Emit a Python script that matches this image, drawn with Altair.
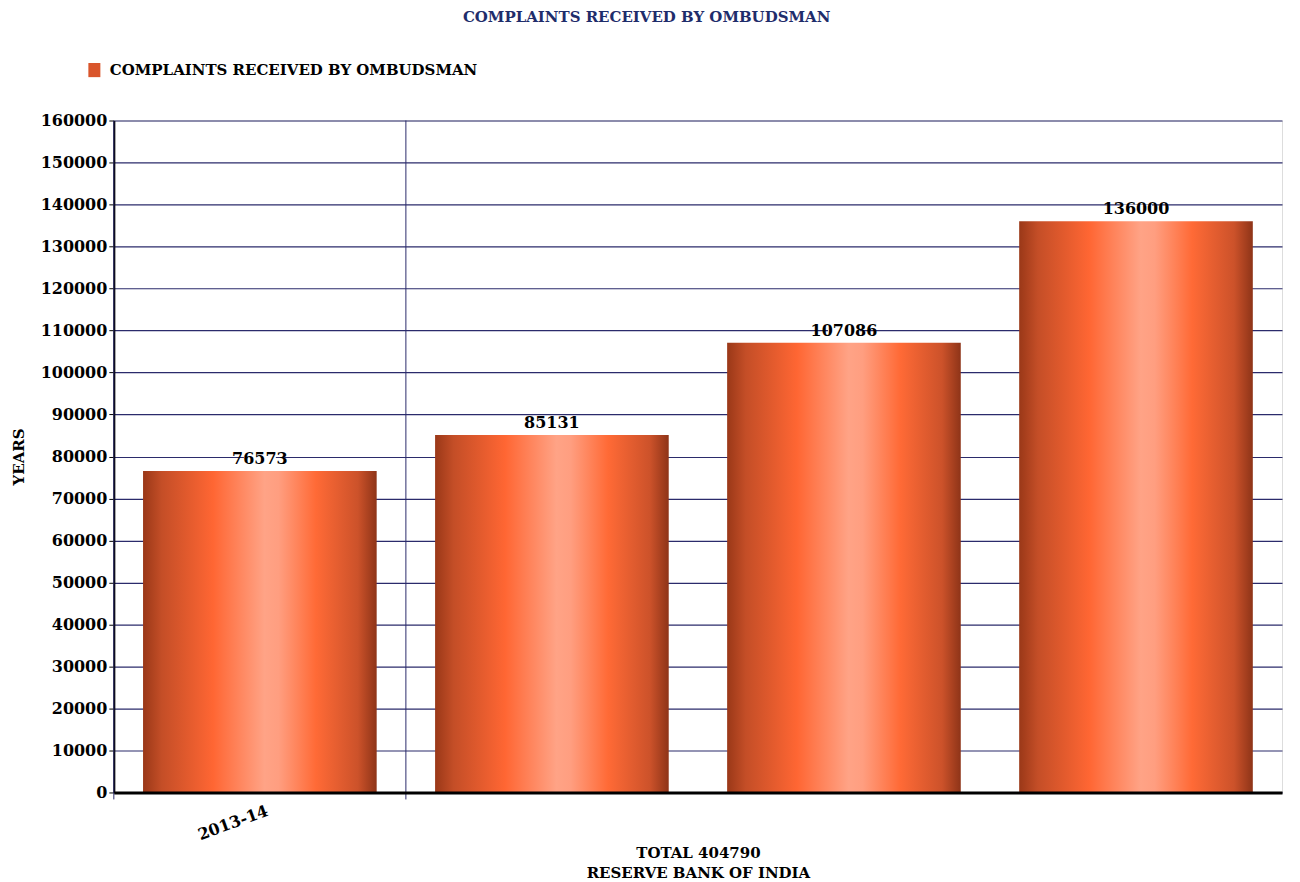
import altair as alt
import pandas as pd

years = ["2013-14", "2014-15", "2015-16", "2016-17"]
complaints = [76573, 85131, 107086, 136000]
series_name = "COMPLAINTS RECEIVED BY OMBUDSMAN"
chart_title = "COMPLAINTS RECEIVED BY OMBUDSMAN"
x_title = ["TOTAL 404790", "RESERVE BANK OF INDIA"]
y_title = "YEARS"
boundary_years = ["2013-14", "2014-15"]

df = pd.DataFrame({"year": years, "value": complaints, "series": [series_name] * len(years)})
rules_df = pd.DataFrame({"year": boundary_years})

FONT = "DejaVu Serif"
W, H = 1170, 673
NAVY = "#2b2b6b"
PAD_IN, PAD_OUT = 0.2, 0.1
step = W / (len(years) - PAD_IN + 2 * PAD_OUT)
half_gap = step * PAD_IN / 2

gradient = {
    "gradient": "linear", "x1": 0, "x2": 1, "y1": 0, "y2": 0,
    "stops": [
        {"offset": 0.0, "color": "#9a3818"},
        {"offset": 0.08, "color": "#c44e27"},
        {"offset": 0.30, "color": "#ff6633"},
        {"offset": 0.52, "color": "#ffa386"},
        {"offset": 0.58, "color": "#ff9e80"},
        {"offset": 0.74, "color": "#ff6a36"},
        {"offset": 0.92, "color": "#cc522a"},
        {"offset": 1.0, "color": "#8e3418"},
    ],
}

xscale = alt.Scale(domain=years, paddingInner=PAD_IN, paddingOuter=PAD_OUT)
yscale = alt.Scale(domain=[0, 160000], nice=False)

x_enc = alt.X(
    "year:N", scale=xscale, sort=years,
    axis=alt.Axis(
        title=x_title, titleFont=FONT, titleFontSize=15, titleFontWeight="bold",
        titleColor="black", titlePadding=3, titleLineHeight=20,
        labelExpr="datum.value == '2013-14' ? datum.label : ''",
        labelAngle=340, labelAlign="right", labelBaseline="top",
        labelFont=FONT, labelFontSize=16, labelFontWeight="bold", labelColor="black",
        labelPadding=10, labelOffset=5,
        ticks=False, grid=False, domainColor="black", domainWidth=3, zindex=1,
    ),
)
y_enc = alt.Y(
    "value:Q", scale=yscale,
    axis=alt.Axis(
        title=y_title, titleFont=FONT, titleFontSize=15, titleFontWeight="bold",
        titleColor="black", titlePadding=14,
        values=list(range(0, 160001, 10000)), format="d",
        labelFont=FONT, labelFontSize=16, labelFontWeight="bold", labelColor="black",
        labelPadding=2, tickSize=5, tickColor="black",
        domainColor="black", domainWidth=2,
        grid=True, gridColor=NAVY, gridWidth=1.2, zindex=0,
    ),
)

bars = alt.Chart(df).mark_bar(color=gradient, strokeWidth=0).encode(x=x_enc, y=y_enc)

legend_layer = alt.Chart(df).transform_filter("false").mark_square().encode(
    x=alt.X("year:N", scale=xscale, sort=years),
    y=alt.Y("value:Q", scale=yscale),
    color=alt.Color(
        "series:N",
        scale=alt.Scale(domain=[series_name], range=["#d9552b"]),
        legend=alt.Legend(
            title=None, orient="none", legendX=-27, legendY=-58,
            symbolType="M-0.85,-1L0.85,-1L0.85,1L-0.85,1Z", symbolSize=200, symbolOpacity=1,
            symbolStrokeWidth=0,
            labelFont=FONT, labelFontSize=15, labelFontWeight="bold",
            labelColor="black", labelOffset=8, labelLimit=600,
        ),
    ),
)

box_path = "M-1,-0.3L1,-0.3L1,0.3L-1,0.3Z"
label_boxes = alt.Chart(df).mark_point(
    shape=box_path, filled=True, color="white", opacity=1, size=1024, yOffset=-12
).encode(x=alt.X("year:N", scale=xscale, sort=years), y=alt.Y("value:Q", scale=yscale))

labels = alt.Chart(df).mark_text(
    font=FONT, fontSize=16, fontWeight="bold", color="black", baseline="middle", dy=-12
).encode(
    x=alt.X("year:N", scale=xscale, sort=years),
    y=alt.Y("value:Q", scale=yscale),
    text=alt.Text("value:Q", format="d"),
)

vrules = alt.Chart(rules_df).mark_rule(color=NAVY, strokeWidth=1, xOffset=-half_gap).encode(
    x=alt.X("year:N", scale=xscale, sort=years, bandPosition=0),
    y=alt.value(0),
    y2=alt.value(H + 7),
)

chart = (
    alt.layer(vrules, bars, legend_layer, label_boxes, labels)
    .properties(
        width=W, height=H,
        title=alt.TitleParams(
            chart_title, font=FONT, fontSize=15, fontWeight="bold", color="#1f2d6b",
            anchor="middle", frame="bounds", offset=38,
        ),
        padding={"left": 3, "top": 1, "right": 10, "bottom": 1},
    )
    .configure_view(stroke=NAVY, strokeWidth=1)
    .configure(background="white")
)

chart.save("out.html", embed_options={"renderer": "svg", "actions": False})
